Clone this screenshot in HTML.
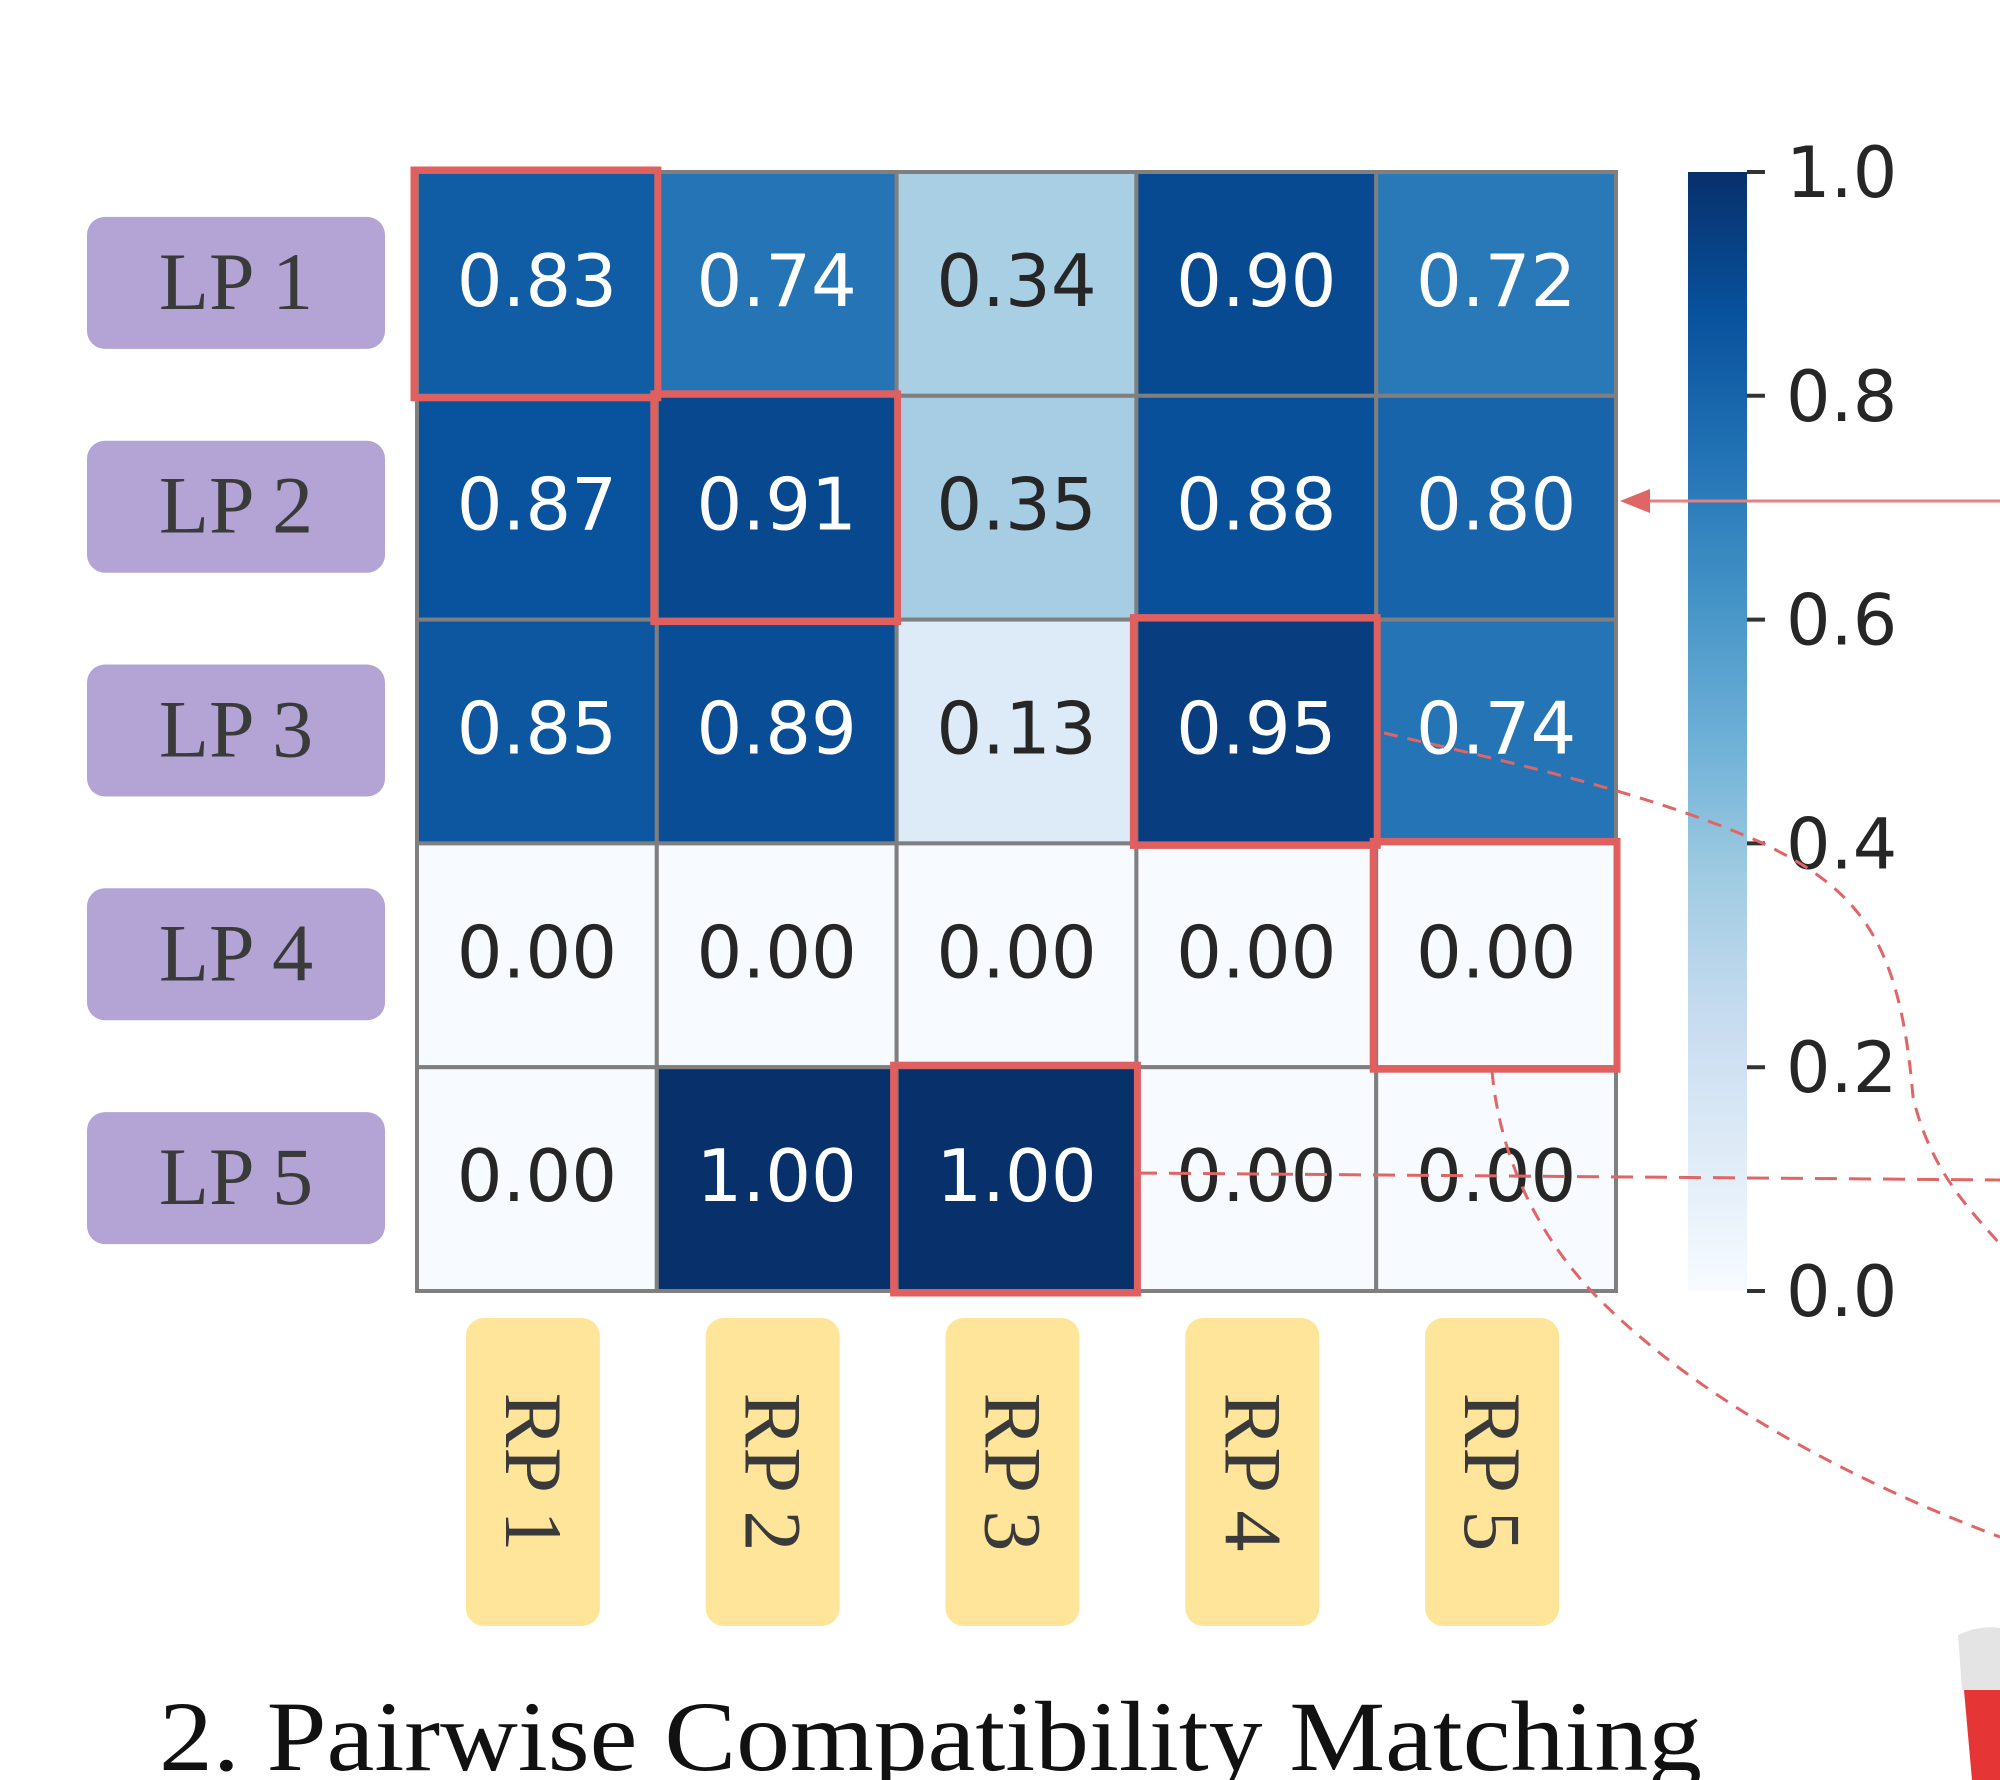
<!DOCTYPE html>
<html><head><meta charset="utf-8"><style>
html,body{margin:0;padding:0;background:#fff;width:2000px;height:1780px;overflow:hidden}
svg{display:block}
</style></head><body>
<svg id="chart" width="2000" height="1780" xmlns="http://www.w3.org/2000/svg">
<defs>
<linearGradient id="cbgrad" x1="0" y1="1" x2="0" y2="0">
<stop offset="0" stop-color="#f7fbff"/><stop offset="0.125" stop-color="#deebf7"/><stop offset="0.25" stop-color="#c6dbef"/><stop offset="0.375" stop-color="#9ecae1"/><stop offset="0.5" stop-color="#6baed6"/><stop offset="0.625" stop-color="#4292c6"/><stop offset="0.75" stop-color="#2171b5"/><stop offset="0.875" stop-color="#08519c"/><stop offset="1" stop-color="#08306b"/>
</linearGradient>
</defs>
<g id="cells"></g>
<g id="labels"></g>
<g id="colorbar"></g>
<g id="connectors">
<path d="M1384,733 C1500,760 1645,791 1760,842 C1860,890 1900,940 1913,1097 C1930,1170 1970,1210 2000,1244" fill="none" stroke="#e06666" stroke-width="3" stroke-dasharray="14,10"/>
<path d="M1492,1071 C1500,1160 1540,1240 1600,1300 C1700,1400 1850,1480 2000,1537" fill="none" stroke="#e06666" stroke-width="3" stroke-dasharray="14,10"/>
<line x1="1135" y1="1173" x2="2000" y2="1180" stroke="#e06666" stroke-width="3" stroke-dasharray="22,12"/>
<line x1="1640" y1="501" x2="2000" y2="501" stroke="#e88080" stroke-width="3"/>
<polygon points="1620,501 1650,489 1650,513" fill="#e06666"/>
</g>
<g>
<path d="M1958,1635 Q1980,1625 2000,1628 L2000,1690 L1962,1690 Z" fill="#e4e4e4"/>
<path d="M1964,1690 L2000,1690 L2000,1780 L1972,1780 Z" fill="#e53535"/>
</g>
<text x="159" y="1770" font-family="Liberation Serif, serif" font-size="100" fill="#111" textLength="1543" lengthAdjust="spacingAndGlyphs">2. Pairwise Compatibility Matching</text>
</svg>
<script>
const rowLabels = ["LP 1","LP 2","LP 3","LP 4","LP 5"];
const colLabels = ["RP 1","RP 2","RP 3","RP 4","RP 5"];
const row1 = [0.83,0.74,0.34,0.90,0.72];
const row2 = [0.87,0.91,0.35,0.88,0.80];
const row3 = [0.85,0.89,0.13,0.95,0.74];
const row4 = [0.00,0.00,0.00,0.00,0.00];
const row5 = [0.00,1.00,1.00,0.00,0.00];
const matchRows = [0,1,2,3,4];
const matchCols = [0,1,3,4,2];
const cbTicks = [0,0.2,0.4,0.6,0.8,1.0];
const values = [row1,row2,row3,row4,row5];

const NS="http://www.w3.org/2000/svg";
const X0=417,Y0=172,W=1616-417,H=1291-172;
const cw=W/colLabels.length, ch=H/rowLabels.length;
const xPos=c=>X0+c*cw, yPos=r=>Y0+r*ch;
const stops=["#f7fbff","#deebf7","#c6dbef","#9ecae1","#6baed6","#4292c6","#2171b5","#08519c","#08306b"];
function hex(h){return [1,3,5].map(i=>parseInt(h.substr(i,2),16));}
function blues(v){v=Math.max(0,Math.min(1,v));const p=v*8,i=Math.min(7,Math.floor(p)),t=p-i;const a=hex(stops[i]),b=hex(stops[i+1]);return "rgb("+a.map((x,k)=>Math.round(x+(b[k]-x)*t)).join(",")+")";}
function mk(tag,attrs,parent){const e=document.createElementNS(NS,tag);for(const k in attrs)e.setAttribute(k,attrs[k]);parent.appendChild(e);return e;}

const cells=document.getElementById('cells');
values.forEach((row,r)=>row.forEach((v,c)=>{
  const rect=mk('rect',{x:xPos(c),y:yPos(r),width:cw,height:ch,fill:blues(v),stroke:'#7f7f7f','stroke-width':4},cells);
  
  
  const t=mk('text',{x:xPos(c)+cw/2,y:yPos(r)+ch/2+22,'text-anchor':'middle','font-family':'DejaVu Sans, sans-serif','font-size':72,fill:v>0.5?'#ffffff':'#262626'},cells);
  t.textContent=v.toFixed(2);
  
  
}));
matchRows.forEach((r,i)=>{
  const c=matchCols[i];
  const b=mk('rect',{x:xPos(c)-3,y:yPos(r)-2,width:cw+4,height:ch+4,fill:'none',stroke:'#e06060','stroke-width':7},cells);
  
  
});

const labels=document.getElementById('labels');
rowLabels.forEach((l,r)=>{
  const cy=yPos(r)+ch/2-2;
  const b=mk('rect',{x:87,y:cy-65,width:298,height:132,rx:18,fill:'#b4a3d5'},labels);
  
  
  const t=mk('text',{x:236,y:cy+27,'text-anchor':'middle','font-family':'Liberation Serif, serif','font-size':82,fill:'#3a3a3a'},labels);
  t.textContent=l;
  
  
});
colLabels.forEach((l,c)=>{
  const cx=xPos(c)+cw/2-4;
  const b=mk('rect',{x:cx-67,y:1318,width:134,height:308,rx:18,fill:'#fee59a'},labels);
  
  
  const t=mk('text',{x:0,y:0,'text-anchor':'middle','font-family':'Liberation Serif, serif','font-size':82,fill:'#3a3a3a',transform:'translate('+(cx-27)+',1472) rotate(90)'},labels);
  t.textContent=l;
  
  
});

const cb=document.getElementById('colorbar');
const cbx=1688,cbw=59;
const cbY=v=>Y0+H*(1-v);
const bar=mk('rect',{x:cbx,y:Y0,width:cbw,height:H,fill:'url(#cbgrad)'},cb);


cbTicks.forEach(v=>{
  const y=cbY(v);
  const ln=mk('line',{x1:cbx+cbw,x2:cbx+cbw+18,y1:y,y2:y,stroke:'#333','stroke-width':4},cb);
  
  
  const t=mk('text',{x:1786,y:y+25,'font-family':'DejaVu Sans, sans-serif','font-size':70,fill:'#262626'},cb);
  t.textContent=v.toFixed(1);
  
  
});
</script>
</body></html>
